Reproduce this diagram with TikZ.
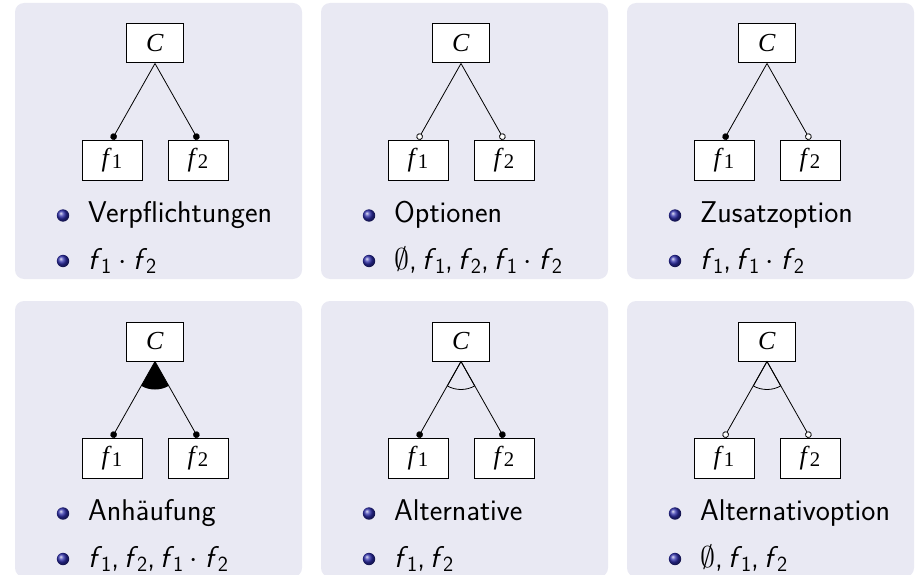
\RequirePackage{fix-cm}
\documentclass[tikz,border=0pt]{standalone}
\usepackage{fontspec}
\usepackage{graphicx}
\newfontfamily\tms{Liberation Serif}
\usetikzlibrary{arrows.meta}
\definecolor{blockbg}{RGB}{233,233,243}
\definecolor{bulblue}{RGB}{45,45,170}
\newcommand\ff[1]{\textit{f}\kern-.04em\raisebox{-.15em}{\scalebox{.72}{#1}}}
\newcommand\boxf[1]{\textit{f}\raisebox{-.1em}{\scalebox{.8}{#1}}}
\tikzset{
	panel/.style={fill=blockbg,rounded corners=9pt},
	cbox/.style={draw,fill=white,line width=1pt,minimum width=57pt,minimum height=39pt,inner sep=0pt,font=\tms\fontsize{26}{28}\selectfont},
	fbox/.style={cbox,minimum width=60pt,minimum height=40pt},
	item/.style={anchor=base west,inner sep=0pt,font=\sffamily\fontsize{30}{34}\selectfont},
	mand/.style={line width=.8pt,-{Circle[length=6.6pt]}},
	opt/.style={line width=.8pt,-{Circle[length=6.6pt,fill=white]}},
	nodec/.style={},
	anddec/.style={fill=black},
	altdec/.style={draw,line width=.8pt}
}
\begin{document}
\begin{tikzpicture}[x=1pt,y=1pt]
			\useasboundingbox (0,0) rectangle (915,-575);
			\foreach \px/\py/\ea/\eb/\dec/\ta/\tb [count=\n] in {
				15/3/mand/mand/nodec/Verpflichtungen/{\ff1${}\cdot{}$\ff2},
				321/3/opt/opt/nodec/Optionen/{$\emptyset$,\,\ff1,\,\ff2,\,\ff1${}\cdot{}$\ff2},
				627/3/mand/opt/nodec/Zusatzoption/{\ff1,\,\ff1${}\cdot{}$\ff2},
				15/301/mand/mand/anddec/Anhäufung/{\ff1,\,\ff2,\,\ff1${}\cdot{}$\ff2},
				321/301/mand/mand/altdec/Alternative/{\ff1,\,\ff2},
				627/301/opt/opt/altdec/Alternativoption/{$\emptyset$,\,\ff1,\,\ff2}} {
				\fill[panel] (\px,-\py) rectangle ++(287,-276);
				\node[cbox] (C\n) at (\px+140,-\py-40.5) {\textit{C}};
				\node[fbox] (fa\n) at (\px+97,-\py-157) {\boxf1};
				\node[fbox] (fb\n) at (\px+183,-\py-157) {\boxf2};
				\draw[\ea] (C\n.south) -- (fa\n.north);
				\draw[\eb] (C\n.south) -- (fb\n.north);
				\path[\dec] (C\n.south) -- ++(240.7:28) arc (240.7:299.3:28) -- cycle;
				\shade[ball color=bulblue] (\px+48,-\py-212.5) circle (6.2);
				\shade[ball color=bulblue] (\px+48,-\py-258) circle (6.2);
				\node[item] (ta\n) at (\px+73,-\py-219.5) {\ta};
				\node[item] (tb\n) at (\px+73,-\py-266) {\tb};
			}
	\end{tikzpicture}
\end{document}
